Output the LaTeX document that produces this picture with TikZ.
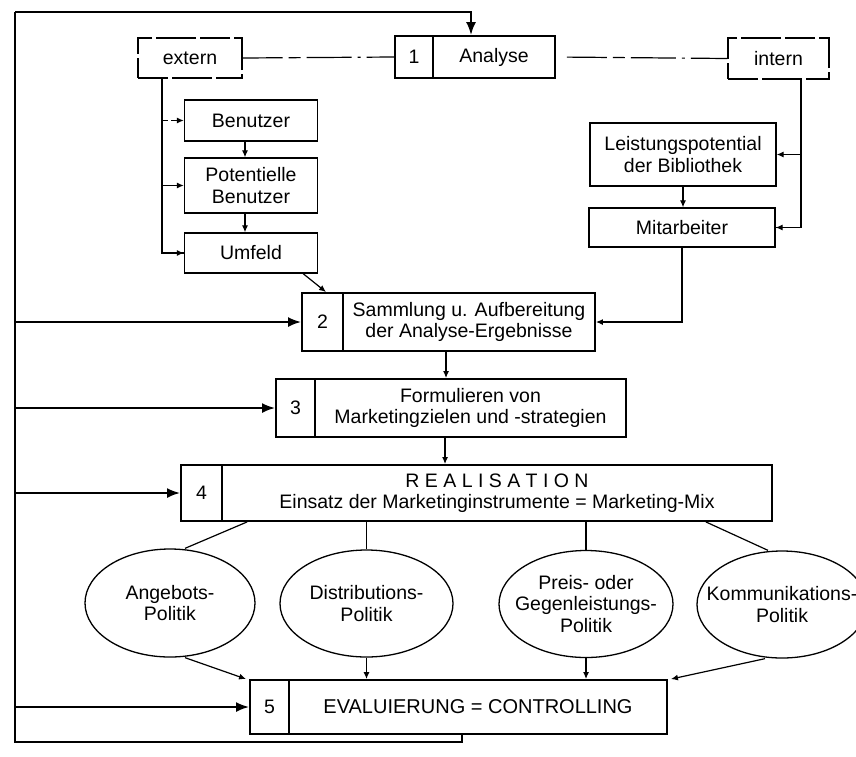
\documentclass[tikz,border=0pt]{standalone}
\usepackage{fontspec}
\setmainfont{Liberation Sans}
\usetikzlibrary{arrows.meta,shapes.geometric}
\tikzset{
  txt/.style={font=\fontsize{19.5}{21.5}\selectfont, align=center, inner sep=0pt},
  mainbox/.style={txt, draw, line width=1.9pt, rectangle},
  subbox/.style={txt, draw, line width=1.3pt, rectangle, minimum width=133pt},
  dbox/.style={txt, draw, line width=1.3pt, rectangle, dash pattern=on 30pt off 4pt on 40pt off 4pt},
  oval/.style={draw, line width=1.3pt, ellipse, inner sep=0pt, minimum width=172pt, minimum height=107pt},
  conn/.style={line width=1.2pt},
  dconn/.style={line width=1.2pt, dash pattern=on 40pt off 6pt on 12pt off 6pt on 45pt off 6pt on 3pt off 6pt},
  sarr/.style={line width=1.2pt, -{Latex[length=7pt,width=6pt]}},
  loopline/.style={line width=2pt},
  larr/.style={line width=2pt, -{Latex[length=13pt,width=10pt]}},
}
\begin{document}
\begin{tikzpicture}[x=1pt,y=-1pt]
\useasboundingbox (0,0) rectangle (856,756);
\fill[white] (0,0) rectangle (856,756);

% numbered main boxes
\node[mainbox, minimum width=38pt, minimum height=42pt] (b1n) at (414,57) {1};
\node[mainbox, minimum width=122pt, minimum height=42pt] (b1t) at (494,57) {Analyse};
\node[mainbox, minimum width=41pt, minimum height=58pt] (b2n) at (322.5,322) {2};
\node[mainbox, minimum width=252pt, minimum height=58pt] (b2t) at (469,322) {Sammlung u. Aufbereitung\\der Analyse-Ergebnisse};
\node[mainbox, minimum width=39pt, minimum height=58pt] (b3n) at (295.5,408) {3};
\node[mainbox, minimum width=311pt, minimum height=58pt] (b3t) at (470.5,408) {Formulieren von\\Marketingzielen und -strategien};
\node[mainbox, minimum width=41pt, minimum height=56pt] (b4n) at (201.5,493) {4};
\node[mainbox, minimum width=550pt, minimum height=56pt] (b4t) at (497,493) {R E A L I S A T I O N\\Einsatz der Marketinginstrumente = Marketing-Mix};
\node[mainbox, minimum width=39pt, minimum height=54pt] (b5n) at (269.5,707) {5};
\node[mainbox, minimum width=378pt, minimum height=54pt, font=\fontsize{20}{22}\selectfont] (b5t) at (478,707) {EVALUIERUNG = CONTROLLING};

% extern / intern
\node[dbox, minimum width=104pt, minimum height=40pt] (ext) at (190,58) {extern};
\node[dbox, minimum width=101pt, minimum height=41pt] (int) at (778.5,58.5) {intern};

% extern sub boxes
\node[subbox, minimum height=41pt] (ben) at (251,120.5) {Benutzer};
\node[subbox, minimum height=55pt] (pot) at (251,185.5) {Potentielle\\Benutzer};
\node[subbox, minimum height=40pt] (umf) at (251,253) {Umfeld};

% intern sub boxes
\node[subbox, minimum width=186pt, minimum height=63pt] (lei) at (683,154.5) {Leistungspotential\\der Bibliothek};
\node[subbox, minimum width=186pt, minimum height=39pt] (mit) at (682,227.5) {Mitarbeiter};

% ellipses
\node[oval, minimum width=170pt, minimum height=108pt] (ang) at (170,603) {};
\node[txt] (angt) at (ang.center) {Angebots-\\Politik};
\node[oval, minimum width=173pt] (dis) at (366.5,603.5) {};
\node[txt] (dist) at (dis.center) {Distributions-\\Politik};
\node[oval, minimum width=174pt] (pre) at (586,604) {};
\node[txt] (pret) at (pre.center) {Preis- oder\\Gegenleistungs-\\Politik};
\node[oval, minimum width=170pt] (kom) at (782,604.5) {};
\node[txt] (komt) at (kom.center) {Kommunikations-\\Politik};

% feedback loop
\coordinate (LT) at (15,12);
\coordinate (LB) at (15,742);
\draw[loopline] ([xshift=-16pt]b5t.south) |- (LB) -- (LT);
\draw[larr] (LT) -| ([xshift=-23pt]b1t.north);
\draw[larr] (LT |- b2n.west) -- (b2n.west);
\draw[larr] (LT |- b3n.west) -- (b3n.west);
\draw[larr] (LT |- b4n.west) -- (b4n.west);
\draw[larr] (LT |- b5n.west) -- (b5n.west);

% extern / intern links
\draw[dconn] (ext.east) -- (b1n.west);
\draw[dconn, shorten <=11pt] (b1t.east) -- (int.west);

% extern branch
\coordinate (ex) at ([xshift=-28pt]ext.south);
\draw[conn] (ex) |- (umf.west);
\draw[sarr, dash pattern=on 6pt off 3pt] (ex |- ben.west) -- (ben.west);
\draw[sarr] (ex |- pot.west) -- (pot.west);
\draw[sarr] (ex |- umf.west) -- (umf.west);
\draw[sarr] ([xshift=-6pt]ben.south) -- ([xshift=-6pt]ben.south |- pot.north);
\draw[sarr] ([xshift=-6pt]pot.south) -- ([xshift=-6pt]pot.south |- umf.north);
\draw[sarr] ([xshift=-15pt]umf.south east) -- ([xshift=25pt]b2n.north west);

% intern branch
\coordinate (in) at ([xshift=22.5pt]int.south);
\draw[conn] (in) |- (mit.east);
\draw[sarr] (in |- lei.east) -- (lei.east);
\draw[sarr] (in |- mit.east) -- (mit.east);
\draw[sarr] (lei.south) -- (lei.south |- mit.north);
\draw[sarr] (mit.south) |- (b2t.east);

% main flow
\draw[sarr] ([xshift=-23pt]b2t.south) -- ([xshift=-23pt]b2t.south |- b3t.north);
\draw[sarr] ([xshift=-25.5pt]b3t.south) -- ([xshift=-25.5pt]b3t.south |- b4t.north);

% box 4 to ellipses
\draw[conn] ([xshift=26pt]b4t.south west) -- ([xshift=15pt]ang.north);
\draw[conn] (dis.north |- b4t.south) -- (dis.north);
\draw[conn] (pre.north |- b4t.south) -- (pre.north);
\draw[conn] ([xshift=-67pt]b4t.south east) -- ([xshift=-14pt]kom.north);

% ellipses to box 5
\draw[sarr] ([xshift=15pt]ang.south) -- ([xshift=-3pt]b5n.north west);
\draw[sarr] (dis.south) -- (dis.south |- b5t.north);
\draw[sarr] (pre.south) -- (pre.south |- b5t.north);
\draw[sarr] ([xshift=-17pt]kom.south) -- ([xshift=3pt]b5t.north east);
\end{tikzpicture}
\end{document}
